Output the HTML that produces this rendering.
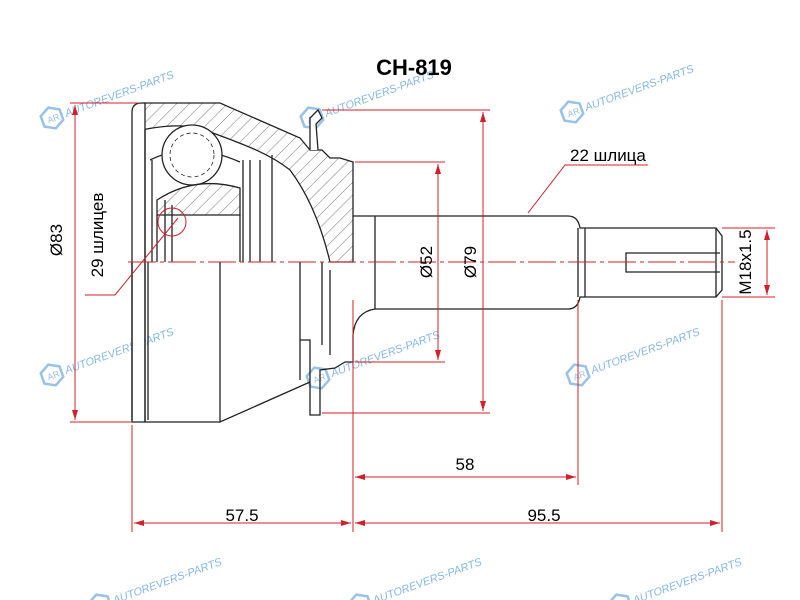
<!DOCTYPE html>
<html><head><meta charset="utf-8"><style>
html,body{margin:0;padding:0;background:#fff;width:800px;height:600px;overflow:hidden}
svg{display:block}
text{font-family:"Liberation Sans",sans-serif}
</style></head><body>
<svg width="800" height="600" viewBox="0 0 800 600" xmlns="http://www.w3.org/2000/svg">
<defs>
<pattern id="h" patternUnits="userSpaceOnUse" width="9" height="9" patternTransform="rotate(45)">
<line x1="0" y1="0" x2="0" y2="9" stroke="#555" stroke-width="0.8"/></pattern>
<marker id="a" markerWidth="10" markerHeight="6" refX="10" refY="3" orient="auto-start-reverse" markerUnits="userSpaceOnUse">
<path d="M0,0 L10,3 L0,6z" fill="#d0202a"/></marker>
<g id="wm" fill="none" stroke="#7fb3e0" stroke-width="2.5" opacity="0.8">
<path d="M0,-11 L10,-5.5 L10,5.5 L0,11 L-10,5.5 L-10,-5.5z"/>
<text x="-5" y="4" font-size="9" fill="#7fb3e0" stroke="none">AR</text>
<text x="14" y="4" font-size="11" fill="#6aa6dc" stroke="none" font-style="italic">AUTOREVERS-PARTS</text>
</g>
</defs>

<g transform="rotate(-20 52 118)"><use href="#wm" x="52" y="118"/></g>
<g transform="rotate(-20 312 118)"><use href="#wm" x="312" y="118"/></g>
<g transform="rotate(-20 572 112)"><use href="#wm" x="572" y="112"/></g>
<g transform="rotate(-20 52 375)"><use href="#wm" x="52" y="375"/></g>
<g transform="rotate(-20 318 378)"><use href="#wm" x="318" y="378"/></g>
<g transform="rotate(-20 578 375)"><use href="#wm" x="578" y="375"/></g>
<g transform="rotate(-20 100 605)"><use href="#wm" x="100" y="605"/></g>
<g transform="rotate(-20 360 605)"><use href="#wm" x="360" y="605"/></g>
<g transform="rotate(-20 620 605)"><use href="#wm" x="620" y="605"/></g>

<text x="414" y="75" font-size="22" font-weight="bold" text-anchor="middle" fill="#000">CH-819</text>

<g fill="none" stroke="#222" stroke-width="1.3">
<path d="M145,103 L220,103 L300,138 L310,150 L322,150 L330,158 L340,158 L353,162 L353,262 L330,262 C320,220 305,190 290,170 C265,150 230,140 200,128 C180,124 160,126 142,130 Z" fill="url(#h)"/>
<path d="M132,112 Q132,103 142,103 L145,103 L145,422 L132,422 Z" fill="#fff"/>
<path d="M310,150 L310,118 L318,110 L322,118 L316,124 L318,150" fill="#fff"/>
<path d="M145,262 L145,422 L220,422 L310,382"/>
<path d="M375,309 Q355,312 353,335 L353,362 L345,362 L335,368 L320,370 L320,415 L310,415 L310,340 L300,340"/>
<path d="M220,262 L220,422 M132,262 L132,420 M148,262 L148,420"/>
<path d="M300,262 L300,380 M322,262 L322,345 M330,270 L330,355"/>
<path d="M145,130 L145,262 M152,160 L152,262 M243,160 L243,262 M250,160 L250,262 M260,160 L260,262 M272,155 L272,262"/>
<path d="M150,160 Q190,140 240,162"/>
<circle cx="192" cy="155" r="30" fill="#fff"/>
<circle cx="192" cy="155" r="22" stroke-dasharray="4 3" stroke-width="0.8"/>
<path d="M157,215 L157,200 Q195,175 240,188 L240,215 Z" fill="url(#h)"/>
<path d="M157,215 L157,262 M165,200 L165,262 M172,205 L172,262 M240,215 L240,262"/>
<circle cx="172" cy="222" r="14" stroke="#d0202a" stroke-width="1"/>
<path d="M353,216 L375,216 L568,216 Q578,216 580,228 L585,228 L716,228 L722,236 L722,290 L716,297 L585,297 L580,297 Q578,309 568,309 L375,309"/>
<path d="M375,216 L375,309 M578,228 L578,297 M585,228 L585,297 M716,228 L716,297"/>
<path d="M720,253 L626,253 L626,272 L720,272"/>
</g>

<line x1="128" y1="262" x2="735" y2="262" stroke="#d0202a" stroke-width="1" stroke-dasharray="28 4 4 4"/>

<g stroke="#d0202a" stroke-width="1" fill="none">
<path d="M70,103 L140,103 M70,422 L132,422"/>
<line x1="75" y1="105" x2="75" y2="420" marker-start="url(#a)" marker-end="url(#a)"/>
<path d="M85,295 L115,295 L178,218"/>
<path d="M355,162 L445,162 M355,362 L445,362"/>
<line x1="438" y1="164" x2="438" y2="360" marker-start="url(#a)" marker-end="url(#a)"/>
<path d="M322,110 L490,110 M322,413 L490,413"/>
<line x1="483" y1="112" x2="483" y2="411" marker-start="url(#a)" marker-end="url(#a)"/>
<path d="M648,165 L565,165 L528,213"/>
<path d="M722,228 L775,228 M722,297 L775,297"/>
<line x1="767" y1="230" x2="767" y2="295" marker-start="url(#a)" marker-end="url(#a)"/>
<path d="M353,300 L353,532 M578,300 L578,485 M132,425 L132,532 M722,300 L722,532"/>
<line x1="355" y1="477" x2="576" y2="477" marker-start="url(#a)" marker-end="url(#a)"/>
<line x1="134" y1="523" x2="351" y2="523" marker-start="url(#a)" marker-end="url(#a)"/>
<line x1="355" y1="523" x2="720" y2="523" marker-start="url(#a)" marker-end="url(#a)"/>
</g>

<g fill="#000" font-size="17">
<text transform="translate(62,240) rotate(-90)" text-anchor="middle">Ø83</text>
<text transform="translate(103,235) rotate(-90)" text-anchor="middle">29 шлицев</text>
<text transform="translate(432,262) rotate(-90)" text-anchor="middle">Ø52</text>
<text transform="translate(476,262) rotate(-90)" text-anchor="middle">Ø79</text>
<text transform="translate(751,262) rotate(-90)" text-anchor="middle">M18x1.5</text>
<text x="570" y="161">22 шлица</text>
<text x="465" y="470" text-anchor="middle">58</text>
<text x="242" y="521" text-anchor="middle">57.5</text>
<text x="544" y="521" text-anchor="middle">95.5</text>
</g>
</svg>
</body></html>
